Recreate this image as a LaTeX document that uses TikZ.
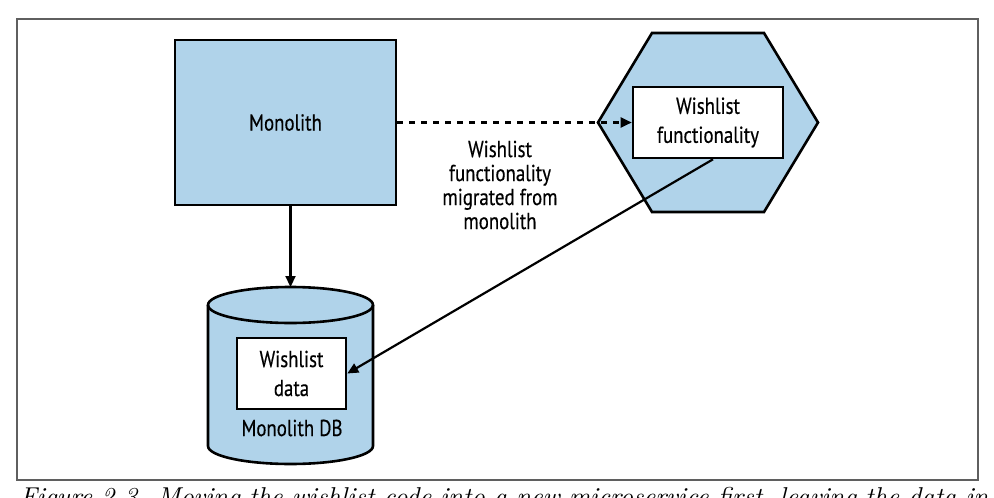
\documentclass[tikz,border=0pt]{standalone}
\usepackage{fontspec}
\setsansfont{PT Sans}[FakeStretch=0.82,FakeBold=0.4]
\usetikzlibrary{arrows.meta}
\definecolor{boxblue}{RGB}{176,211,234}
\definecolor{framegray}{RGB}{95,95,95}
\begin{document}
\begin{tikzpicture}[x=1pt,y=-1pt,
  lbl/.style={font=\sffamily\fontsize{23}{24}\selectfont, align=center, text=black},
  boxlbl/.style={font=\sffamily\fontsize{23}{29}\selectfont, align=center, text=black},
  shapeline/.style={draw=black, line width=2.6pt},
  whitebox/.style={shapeline, fill=white, inner sep=0pt, boxlbl},
  arr/.style={line width=2.2pt, -{Triangle[length=11pt,width=10pt]}},
]
\useasboundingbox (0,0) rectangle (994,498);
\clip (0,0) rectangle (994,498);
\fill[white] (0,0) rectangle (994,498);
\draw[framegray, line width=1.6pt] (17,19) rectangle (978,480);

% Monolith
\node[shapeline, fill=boxblue, minimum width=221pt, minimum height=165pt, inner sep=0pt, boxlbl] (mono) at (285.5,122.5) {Monolith};

% Hexagon microservice
\draw[shapeline, fill=boxblue, line join=miter]
  (598,122.5) -- (652,33) -- (764,33) -- (818,122.5) -- (764,212) -- (652,212) -- cycle;
\node[whitebox, minimum width=150pt, minimum height=71pt] (func) at (708,122.5) {Wishlist\\functionality};

% Cylinder
\coordinate (cyltop) at (290.5,287);
\fill[boxblue] (208,305) -- (208,446) arc[start angle=180, end angle=0, x radius=82.5, y radius=18] -- (373,305) -- cycle;
\draw[shapeline, fill=boxblue] (290.5,305) ellipse[x radius=82.5, y radius=18];
\draw[shapeline] (208,305) -- (208,446) arc[start angle=180, end angle=0, x radius=82.5, y radius=18] -- (373,305);
\node[whitebox, minimum width=109pt, minimum height=71pt] (data) at (291.5,373.5) {Wishlist\\data};
\node[boxlbl] (dblabel) at (292,428) {Monolith DB};

% Label
\node[lbl] (migr) at (500,185) {Wishlist\\functionality\\migrated from\\monolith};

% Connectors
\draw[arr, dash pattern=on 6pt off 6pt] (mono.east) -- (func.west);
\draw[arr] (mono.south -| cyltop) -- (cyltop);
\draw[arr] ([xshift=5pt]func.south) -- (data.east);

% Caption (cut off)
\node[anchor=base west, inner sep=0pt] (caption) at (20,505)
  {\resizebox{968pt}{!}{\itshape Figure 2-3. Moving the wishlist code into a new microservice first, leaving the data in}};
\end{tikzpicture}
\end{document}
